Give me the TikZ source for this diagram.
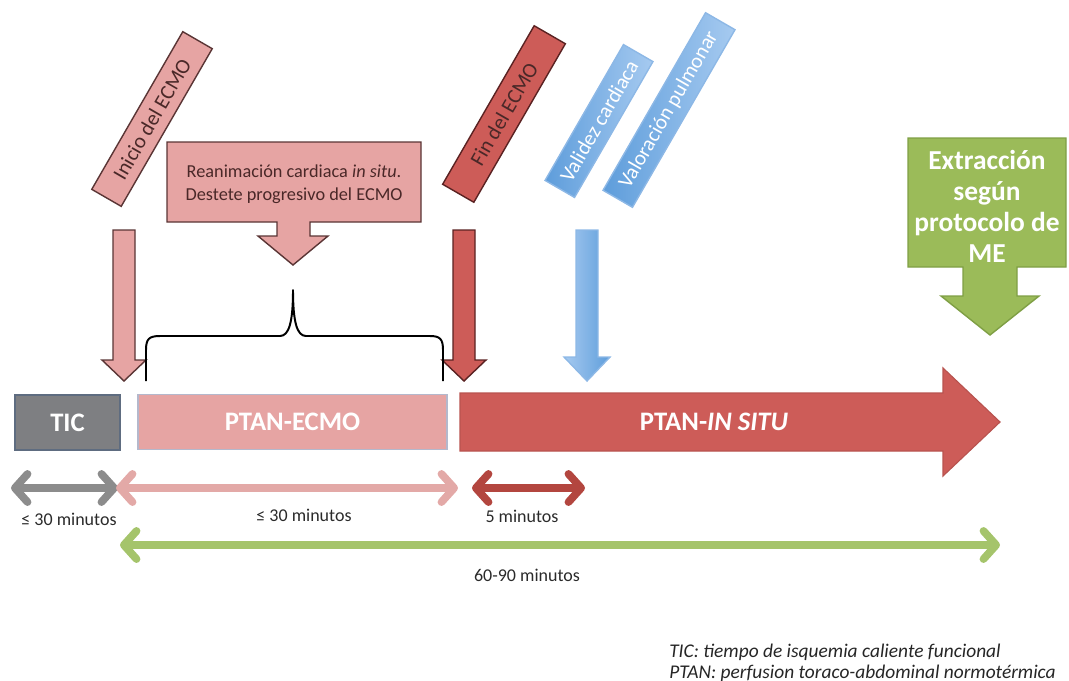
\documentclass[tikz,border=0pt]{standalone}
\usepackage{fontspec}
\setmainfont{Carlito}
\usetikzlibrary{arrows.meta}
\definecolor{pinkA}{HTML}{E6A4A3}
\definecolor{redA}{HTML}{CD5C58}
\definecolor{darkB}{HTML}{4A2828}
\definecolor{edgeP}{HTML}{5A3535}
\definecolor{edgeR}{HTML}{5A2222}
\definecolor{blueD}{HTML}{5E9DDB}
\definecolor{blueL}{HTML}{A6CAF0}
\definecolor{blueE}{HTML}{8DB8E6}
\definecolor{greenA}{HTML}{9BBB59}
\definecolor{greenE}{HTML}{7F9F45}
\definecolor{grayA}{HTML}{7E7F82}
\definecolor{grayE}{HTML}{5E6C80}
\definecolor{boxE}{HTML}{B4B8CC}
\definecolor{arGray}{HTML}{8C8C8C}
\definecolor{arPink}{HTML}{E3A9A7}
\definecolor{arRed}{HTML}{B3463F}
\definecolor{arGreen}{HTML}{A5C46B}
\definecolor{txt}{HTML}{2A2A2A}
\begin{document}
\begin{tikzpicture}[x=0.025cm,y=-0.025cm,
  tag/.style={draw, line width=1pt, minimum height=0.85cm, inner sep=0pt, rotate=60,
    font=\fontsize{15}{17}\selectfont},
  bar/.style={line width=0.8pt, inner sep=0pt},
  barlabel/.style={text=white, font=\bfseries\fontsize{19}{22}\selectfont},
  dbl/.style={line width=5.5pt, {Straight Barb[length=9pt,width=20pt,round]}-{Straight Barb[length=9pt,width=20pt,round]}},
  minlab/.style={text=txt, font=\fontsize{12.8}{15}\selectfont},
  legend/.style={text=black!85, font=\itshape\fontsize{13.8}{16}\selectfont, anchor=base west, inner sep=0pt},
  downar/.style={draw, line width=1pt}
]
\useasboundingbox (0,0) rectangle (1069,680);

% ---- rotated tags ----
\node[tag, fill=pinkA, draw=edgeP, text=darkB, minimum width=4.55cm] (inicio) at (152,119) {Inicio del ECMO};
\node[tag, fill=redA, draw=edgeR, text=darkB, minimum width=4.575cm, minimum height=0.9cm] (fin) at (504,114) {Fin del ECMO};
\node[tag, left color=blueD, right color=blueL, draw=blueE, text=white, minimum width=3.92cm] (validez) at (599,121) {Validez cardiaca};
\node[tag, left color=blueD, right color=blueL, draw=blueE, text=white, minimum width=5.125cm] (valora) at (669,110) {Valoración pulmonar};

% ---- reanimacion callout ----
\draw[downar, fill=pinkA, draw=edgeP]
  (167,142) -- (421,142) -- (421,222) -- (310,222) -- (310,236) -- (328,236) -- (293,265)
  -- (258,236) -- (277,236) -- (277,222) -- (167,222) -- cycle;
\node[text=darkB, align=center, font=\fontsize{13}{16}\selectfont] (reanim) at (294,184)
  {Reanimación cardiaca \textit{in situ}.\\Destete progresivo del ECMO};

% ---- ME callout ----
\draw[line width=1pt, fill=greenA, draw=greenE]
  (908,138) -- (1066,138) -- (1066,267) -- (1017,267) -- (1017,296) -- (1039,296) -- (990,335)
  -- (941,296) -- (963,296) -- (963,267) -- (908,267) -- cycle;
\node[text=white, align=center, font=\bfseries\fontsize{19.5}{22}\selectfont] (me) at (987,206)
  {Extracción\\según\\protocolo de\\ME};

% ---- down arrows ----
\draw[downar, fill=pinkA, draw=edgeP]
  (113,230) -- (135,230) -- (135,360) -- (146,360) -- (124,381) -- (102,360) -- (113,360) -- cycle;
\draw[downar, fill=redA, draw=edgeR]
  (453,230) -- (475,230) -- (475,360) -- (486,360) -- (464,381) -- (442,360) -- (453,360) -- cycle;
\draw[line width=1pt, left color=blueL, right color=blueD, draw=blueE]
  (576,230) -- (598,230) -- (598,357) -- (610,357) -- (587,381) -- (564,357) -- (576,357) -- cycle;

% ---- brace ----
\draw[line width=1.4pt, line join=round]
  (146,381) -- (146,350) .. controls (146,339) and (149,336) .. (160,336) -- (280,336)
  .. controls (289,336) and (293,322) .. (293,290)
  .. controls (293,322) and (297,336) .. (306,336) -- (430,336)
  .. controls (440,336) and (443,339) .. (443,350) -- (443,381);

% ---- timeline bars ----
\node[bar, fill=grayA, draw=grayE, minimum width=2.625cm, minimum height=1.375cm] (tic) at (67.5,422.5) {};
\node[barlabel] at (tic) {TIC};
\node[bar, fill=pinkA, draw=boxE, minimum width=7.725cm, minimum height=1.375cm] (ecmo) at (292.5,422) {};
\node[barlabel] at (ecmo) {PTAN-ECMO};
\draw[line width=0.8pt, fill=redA, draw=redA!90!black]
  (460,393) -- (943,393) -- (943,368) -- (1000,422) -- (943,476) -- (943,451) -- (460,451) -- cycle;
\node[barlabel] (insitu) at (714,422) {PTAN-\textit{IN SITU}};

% ---- duration arrows ----
\coordinate (g1) at (11,488);  \coordinate (g2) at (118,488);
\coordinate (p1) at (116,488); \coordinate (p2) at (458,488);
\coordinate (r1) at (472,488); \coordinate (r2) at (585,488);
\coordinate (v1) at (120,545); \coordinate (v2) at (1000,545);
\draw[dbl, draw=arGray] (g1) -- (g2);
\draw[dbl, draw=arPink] (p1) -- (p2);
\draw[dbl, draw=arRed] (r1) -- (r2);
\draw[dbl, draw=arGreen] (v1) -- (v2);
\node[minlab] (l1) at (69,519) {≤ 30 minutos};
\node[minlab] (l2) at (304,515) {≤ 30 minutos};
\node[minlab] (l3) at (522,516) {5 minutos};
\node[minlab] (l4) at (527,575) {60-90 minutos};

% ---- legend ----
\node[legend] (leg1) at (669,657) {TIC: tiempo de isquemia caliente funcional};
\node[legend] (leg2) at (669,678) {PTAN: perfusion toraco-abdominal normotérmica};
\end{tikzpicture}
\end{document}
